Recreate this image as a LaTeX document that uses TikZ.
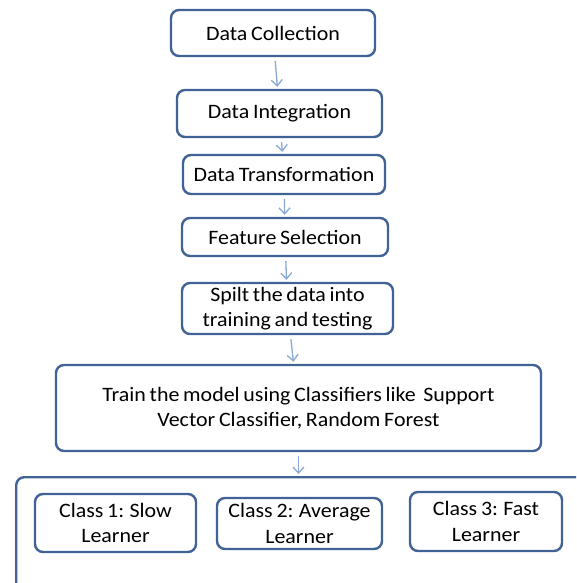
\documentclass[tikz,border=0pt]{standalone}
\usepackage{fontspec}
\setmainfont[FakeStretch=1.07, WordSpace=0.75]{Carlito}
\usetikzlibrary{arrows.meta}
\definecolor{rahmen}{RGB}{64,98,148}
\definecolor{pfeil}{RGB}{138,168,214}

\tikzset{
	stufe/.style={draw=rahmen, line width=2.4pt, rounded corners=8pt, align=center, inner sep=2pt, font=\fontsize{20.5}{25.5}\selectfont},
	pfeilstil/.style={draw=pfeil, line width=1.3pt, -{Straight Barb[length=6pt,width=11pt]}, shorten >=2pt, shorten <=4pt}
}

\begin{document}
\begin{tikzpicture}[x=1pt, y=-1pt]

	\clip (0,0) rectangle (576,583);

	\node[stufe, minimum width=204, minimum height=46] (sammlung) at (273,33) {Data Collection};
	\node[stufe, minimum width=205, minimum height=47] (integration) at (279.5,113.5) {Data Integration};
	\node[stufe, minimum width=202, minimum height=39] (transformation) at (284,174.5) {Data Transformation};
	\node[stufe, minimum width=206, minimum height=38] (auswahl) at (285,237) {Feature Selection};
	\node[stufe, minimum width=211, minimum height=51] (aufteilung) at (287.5,308.5) {Spilt the data into\\training and testing};
	\node[stufe, minimum width=485, minimum height=86] (training) at (298.5,408) {Train the model using Classifiers like~~Support\\Vector Classifier, Random Forest};

	% unterer Rahmen, rechts und unten abgeschnitten
	\node[stufe, minimum width=620, minimum height=200, anchor=north west] (klassen) at (15,476) {};

	\node[stufe, minimum width=161, minimum height=58] (langsam) at (115.5,523) {Class 1: Slow\\Learner};
	\node[stufe, minimum width=165, minimum height=51] (mittel) at (299.5,523.5) {Class 2: Average\\Learner};
	\node[stufe, minimum width=152, minimum height=59] (schnell) at (486,521.5) {Class 3: Fast\\Learner};

	\draw[pfeilstil] (sammlung) -- (integration);
	\draw[pfeilstil] (integration) -- (transformation);
	\draw[pfeilstil] (transformation) -- (auswahl);
	\draw[pfeilstil] (auswahl) -- (aufteilung);
	\draw[pfeilstil] (aufteilung) -- (training);
	\draw[pfeilstil] (training.south) -- (training.south |- klassen.north);

\end{tikzpicture}
\end{document}
